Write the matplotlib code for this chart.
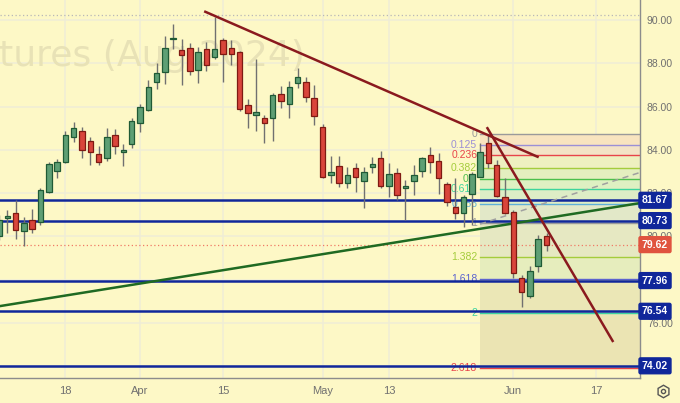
import matplotlib
matplotlib.use("Agg")
import matplotlib.pyplot as plt
import matplotlib.transforms as mtransforms
import numpy as np

# ---------------- data ----------------
opens = [80.02, 80.85, 81.08, 80.25, 80.76, 80.67, 82.07, 83.02, 83.45, 84.58,
         84.86, 84.39, 83.82, 83.64, 84.70, 83.89, 84.27, 85.25, 85.83, 87.15,
         87.60, 89.10, 88.60, 88.69, 87.68, 88.65, 88.30, 89.08, 88.69, 88.54,
         86.05, 85.62, 85.46, 85.46, 86.58, 86.10, 87.10, 87.13, 86.38, 85.07,
         82.82, 83.24, 82.48, 83.15, 82.55, 83.21, 83.62, 82.32, 82.92, 82.22,
         82.56, 83.04, 83.76, 83.47, 82.41, 81.34, 81.10, 81.95, 82.76, 84.30,
         83.30, 81.81, 81.11, 78.09, 77.26, 78.65, 80.02]
highs = [80.99, 81.22, 81.68, 80.90, 81.27, 82.24, 83.44, 83.58, 84.87, 85.29,
         85.07, 84.59, 84.19, 85.01, 84.96, 84.27, 85.46, 86.10, 87.23, 88.00,
         89.26, 89.82, 89.12, 88.92, 88.77, 89.00, 90.16, 89.15, 89.08, 88.59,
         86.33, 88.20, 85.61, 86.61, 86.95, 87.19, 87.77, 87.38, 87.00, 85.18,
         83.72, 83.72, 83.22, 83.38, 83.22, 83.66, 83.96, 83.38, 83.15, 82.61,
         83.30, 83.68, 84.15, 83.85, 82.53, 82.68, 81.91, 82.99, 84.30, 84.72,
         83.53, 82.68, 81.22, 78.22, 78.65, 80.06, 80.14]
lows = [79.83, 80.16, 79.88, 79.56, 80.16, 80.53, 82.01, 82.70, 83.41, 84.38,
        83.62, 83.30, 83.30, 83.47, 83.81, 83.27, 84.08, 84.82, 85.79, 86.81,
        87.04, 88.68, 87.00, 87.48, 87.10, 87.66, 88.22, 87.15, 87.91, 85.79,
        84.99, 84.85, 84.30, 84.42, 85.92, 85.49, 86.84, 86.22, 85.15, 82.68,
        82.45, 82.30, 82.25, 82.07, 81.33, 82.92, 82.22, 81.83, 81.68, 80.76,
        81.91, 82.76, 82.92, 81.96, 81.40, 80.79, 80.45, 80.55, 82.73, 83.15,
        81.83, 81.02, 78.06, 76.75, 77.17, 78.37, 79.33]
closes = [80.76, 80.96, 80.30, 80.62, 80.34, 82.14, 83.35, 83.44, 84.69, 85.02,
          83.99, 83.91, 83.42, 84.58, 84.19, 83.98, 85.33, 85.97, 86.89, 87.54,
          88.69, 89.12, 88.40, 87.64, 88.52, 87.93, 88.65, 88.41, 88.41, 85.89,
          85.69, 85.73, 85.25, 86.52, 86.26, 86.89, 87.38, 86.43, 85.58, 82.76,
          82.99, 82.45, 82.84, 82.73, 82.99, 83.33, 82.32, 82.87, 81.91, 82.33,
          82.84, 83.61, 83.42, 82.70, 81.61, 81.07, 81.81, 82.88, 83.91, 83.38,
          81.87, 81.10, 78.32, 77.44, 78.40, 79.87, 79.62]

tick_index = [8, 17, 27, 39, 47, 62, 72]
tick_labels = ["18", "Apr", "15", "May", "13", "Jun", "17"]

level_prices = [81.67, 80.73, 77.96, 76.54, 74.02]
last_price = 79.62
top_dotted = 90.22

axis_prices = [76, 80, 82, 84, 86, 88, 90]

watermark = "tures (Aug 2024)"

fib_high = 84.72
fib_low = 80.60
fib_start = 57.99
fib_ratios = [0, 0.125, 0.236, 0.382, 0.5, 0.618, 0.786, 1, 1.382, 1.618, 2, 2.618]
fib_labels = ["0", "0.125", "0.236", "0.382", "0.5", "0.618", "0.786", "1",
              "1.382", "1.618", "2", "2.618"]
fib_colors = ["#9a9a9a", "#9b8fd6", "#e8434a", "#a4cc3c", "#4cbf4c", "#3dd49c",
              "#5fb0d8", "#9a9a9a", "#a4cc3c", "#5b63cf", "#3dd4a0", "#e8434a"]
fib_fills = ["#f8e4bf", "#f3e3c6", "#eef0c0", "#e4efbf", "#def0c2", "#ddedc6",
             "#e2e8c8", "#e6e8c2", "#e6edbd", "#ebe7b6", "#ebe4b3"]

# trend lines (bar index, price)
down_long = [(24.87, 90.38), (64.92, 83.68)]
down_steep = [(58.88, 85.00), (73.97, 75.17)]
up_green = [(0.12, 76.78), (77.27, 81.54)]
dashed_gray = [(57.99, 80.57), (77.15, 82.94)]

# ---------------- style ----------------
BG = "#fdf8c6"
GRID = "#efedd6"
NAVY = "#10279a"
UP_FILL, UP_EDGE = "#5e9f74", "#1f5a35"
DN_FILL, DN_EDGE = "#d9453b", "#7e1a12"
WICK = "#707070"
TXT = "#707070"
FONT = "Liberation Sans"

W, H = 680, 403
fig = plt.figure(figsize=(W / 100, H / 100), dpi=100, facecolor=BG)
ax = fig.add_axes([0, 25 / H, 640 / W, 378 / H])
ax.set_facecolor(BG)
ax.set_xlim(0.12, 77.27)
ax.set_ylim(73.457, 90.924)

# grid
for t in tick_index:
    ax.axvline(t, color=GRID, lw=1.1, zorder=0)
for p in range(74, 92, 2):
    ax.axhline(p, color=GRID, lw=1.1, zorder=0)

# watermark
ax.text(-1, H - 66, watermark, transform=mtransforms.IdentityTransform(),
        ha="left", va="baseline", fontsize=26, color="#e8e2b6", family="DejaVu Sans",
        zorder=0.5)

# fib retracement
xr = ax.get_xlim()[1]
rng = fib_high - fib_low
fib_prices = [fib_high - r * rng for r in fib_ratios]
for k in range(len(fib_prices) - 1):
    ax.fill_between([fib_start, xr], fib_prices[k + 1], fib_prices[k],
                    color=fib_fills[k], lw=0, zorder=0.8)
for pr, col, lab in zip(fib_prices, fib_colors, fib_labels):
    ax.plot([fib_start, xr], [pr, pr], color=col, lw=1.0, zorder=1)
    ax.text(fib_start - 0.35, pr, lab, color=col, fontsize=7.5, family=FONT,
            ha="right", va="center", zorder=1.1)

# horizontal levels
for p in level_prices:
    ax.axhline(p, color=NAVY, lw=1.8, zorder=2)
ax.axhline(last_price, color="#f07a66", lw=0.9, ls=(0, (1, 2)), zorder=1.5)
ax.axhline(top_dotted, color="#b8b8b8", lw=0.9, ls=(0, (1, 2)), zorder=1.5)

# trend lines
ax.plot(*zip(*up_green), color="#1f6a22", lw=1.8, zorder=2.2)
ax.plot(*zip(*dashed_gray), color="#a0a0a0", lw=1.1, ls=(0, (4, 3)), zorder=2.2)
ax.plot(*zip(*down_long), color="#8a1a1e", lw=1.8, zorder=4)
ax.plot(*zip(*down_steep), color="#8a1a1e", lw=1.8, zorder=4)

# candles
idx = np.arange(len(opens))
o = np.array(opens); c = np.array(closes)
hi = np.array(highs); lo = np.array(lows)
up = c >= o
ax.vlines(idx, lo, hi, color=WICK, lw=1.0, zorder=3)
bottoms = np.minimum(o, c)
heights = np.maximum(np.abs(c - o), 0.06)
ax.bar(idx[up], heights[up], bottom=bottoms[up], width=0.66,
       color=UP_FILL, edgecolor=UP_EDGE, linewidth=0.9, zorder=3.2)
ax.bar(idx[~up], heights[~up], bottom=bottoms[~up], width=0.66,
       color=DN_FILL, edgecolor=DN_EDGE, linewidth=0.9, zorder=3.2)

# axes styling
for s in ["left", "top"]:
    ax.spines[s].set_visible(False)
ax.spines["right"].set_color("#8c8c8c")
ax.spines["bottom"].set_color("#8c8c8c")
ax.spines["right"].set_linewidth(1.0)
ax.spines["bottom"].set_linewidth(1.0)
ax.set_xticks(tick_index)
ax.set_xticklabels(tick_labels, family=FONT, fontsize=8, color=TXT)
ax.tick_params(axis="x", length=0, pad=6)
ax.yaxis.tick_right()
ax.set_yticks(axis_prices)
ax.set_yticklabels([f"{p:.2f}" for p in axis_prices], family=FONT, fontsize=7.5, color=TXT)
ax.tick_params(axis="y", length=0, pad=5)

# price boxes
blend = mtransforms.blended_transform_factory(ax.transAxes, ax.transData)
xb = 655 / 640
for p in level_prices:
    ax.text(xb, p, f"{p:.2f}", transform=blend, ha="center", va="center",
            fontsize=7.5, family=FONT, weight="bold", color="white", clip_on=False,
            zorder=6, bbox=dict(boxstyle="round,pad=0.28,rounding_size=0.15",
                                fc=NAVY, ec=NAVY))
ax.text(xb, last_price, f"{last_price:.2f}", transform=blend, ha="center", va="center",
        fontsize=7.5, family=FONT, weight="bold", color="white", clip_on=False,
        zorder=6, bbox=dict(boxstyle="round,pad=0.28,rounding_size=0.15",
                            fc="#e0533f", ec="#e0533f"))

# settings icon
fig.add_artist(plt.Line2D([662.5 / W], [(H - 391) / H], marker="h", markersize=9,
                          markerfacecolor="none", markeredgecolor="#555555",
                          markeredgewidth=1.0, transform=fig.transFigure))
fig.add_artist(plt.Line2D([662.5 / W], [(H - 391) / H], marker="o", markersize=3,
                          markerfacecolor="none", markeredgecolor="#555555",
                          markeredgewidth=1.0, transform=fig.transFigure))

fig.savefig("out.png", dpi=100, facecolor=BG)
